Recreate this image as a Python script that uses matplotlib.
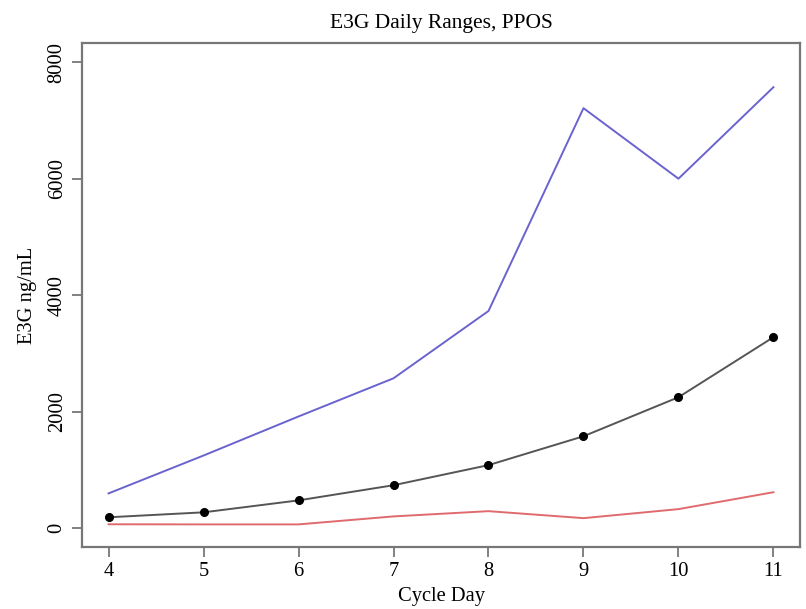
import matplotlib
matplotlib.use("Agg")
import matplotlib.pyplot as plt

plt.rcParams['font.family'] = ['Liberation Serif', 'DejaVu Serif']

# cycle days and E3G values (ng/mL)
days = [4, 5, 6, 7, 8, 9, 10, 11]
upper = [600, 1250, 1920, 2575, 3730, 7210, 6000, 7570]
median = [190, 275, 480, 740, 1085, 1580, 2250, 3280]
lower = [70, 68, 68, 205, 295, 175, 330, 620]

fig = plt.figure(figsize=(8.06, 6.09), dpi=100)
ax = fig.add_axes([0.1017, 0.1018, 0.8909, 0.8268])

ax.plot(days, upper, color='#6a63cf', lw=1.4)
ax.plot(days, lower, color='#e06a6e', lw=1.4)
ax.plot(days, median, color='#555555', lw=1.4, marker='o', ms=5.5,
        mfc='black', mec='black')

ax.set_xlim(3.72, 11.28)
ax.set_ylim(-320, 8320)
ax.set_xticks(days)
ax.set_yticks([0, 2000, 4000, 6000, 8000])
for lab in ax.get_yticklabels():
    lab.set_rotation(90)
    lab.set_va('center')

for s in ax.spines.values():
    s.set_color('#777777')
    s.set_linewidth(1.6)
ax.tick_params(length=7, width=1.3, color='#777777', labelsize=14.8,
               labelcolor='black', pad=4)

ax.set_title('E3G Daily Ranges, PPOS', fontsize=15.5, pad=11)
ax.set_xlabel('Cycle Day', fontsize=14.8, labelpad=4)
ax.set_ylabel('E3G ng/mL', fontsize=14.8, labelpad=8)

fig.savefig('out.png', dpi=100)
